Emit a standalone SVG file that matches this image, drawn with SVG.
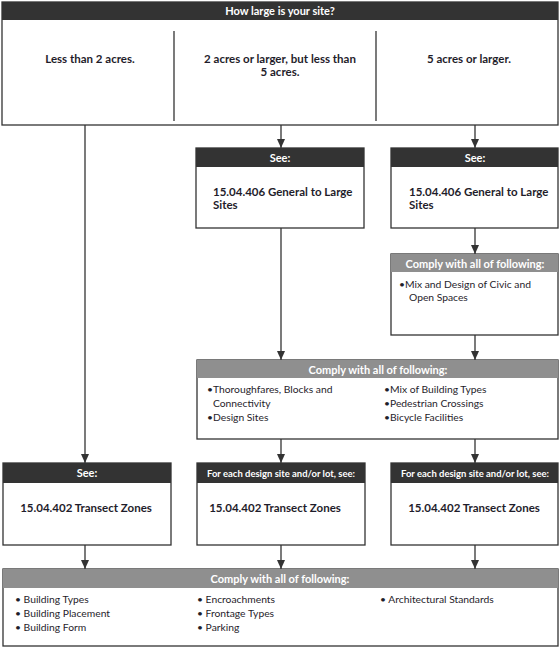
<svg xmlns="http://www.w3.org/2000/svg" width="560" height="649" viewBox="0 0 560 649">
<defs>
<marker id="arr" markerWidth="8" markerHeight="9" refX="4" refY="9" orient="0" markerUnits="userSpaceOnUse" viewBox="0 0 8 9">
<path d="M0,0 L8,0 L4,9 Z" fill="#333"/>
</marker>
<style>
.box{fill:#fff;stroke:#333;stroke-width:1.3}
.dark{fill:#333}
.gray{fill:#8f8f8f}
.ht{font-family:Lato,"Liberation Sans",sans-serif;font-weight:bold;font-size:11px;fill:#fff;text-anchor:middle}
.t{font-family:Lato,"Liberation Sans",sans-serif;font-weight:bold;font-size:11.5px;fill:#1f1d2b}
.c{text-anchor:middle}
.b{font-family:Lato,"Liberation Sans",sans-serif;font-size:10.3px;fill:#1f1d2b}
.ln{stroke:#333;stroke-width:1.3;fill:none}
</style>
</defs>

<g id="connectors">
<line class="ln" x1="85" y1="125" x2="85" y2="463" marker-end="url(#arr)"/>
<line class="ln" x1="281" y1="125" x2="281" y2="148" marker-end="url(#arr)"/>
<line class="ln" x1="475" y1="125" x2="475" y2="148" marker-end="url(#arr)"/>
<line class="ln" x1="281" y1="228" x2="281" y2="360" marker-end="url(#arr)"/>
<line class="ln" x1="475" y1="228" x2="475" y2="254" marker-end="url(#arr)"/>
<line class="ln" x1="475" y1="335" x2="475" y2="360" marker-end="url(#arr)"/>
<line class="ln" x1="281" y1="439" x2="281" y2="463" marker-end="url(#arr)"/>
<line class="ln" x1="475" y1="439" x2="475" y2="463" marker-end="url(#arr)"/>
<line class="ln" x1="85" y1="545" x2="85" y2="569" marker-end="url(#arr)"/>
<line class="ln" x1="281" y1="545" x2="281" y2="569" marker-end="url(#arr)"/>
<line class="ln" x1="475" y1="545" x2="475" y2="569" marker-end="url(#arr)"/>
</g>

<g id="question">
<rect class="box" x="2" y="2" width="556" height="123"/>
<rect class="dark" x="2" y="2" width="556" height="18"/>
<text class="ht" x="280" y="15">How large is your site?</text>
<line class="ln" x1="174" y1="31" x2="174" y2="121"/>
<line class="ln" x1="376" y1="31" x2="376" y2="121"/>
<text class="t c" x="90" y="63">Less than 2 acres.</text>
<text class="t c" x="280" y="63">2 acres or larger, but less than</text>
<text class="t c" x="280" y="76">5 acres.</text>
<text class="t c" x="469" y="63">5 acres or larger.</text>
</g>

<g id="see-mid">
<rect class="box" x="196" y="148" width="168" height="80"/>
<rect class="dark" x="196" y="148" width="168" height="19"/>
<text class="ht" x="280" y="162">See:</text>
<text class="t" x="213" y="196">15.04.406 General to Large</text>
<text class="t" x="213" y="209">Sites</text>
</g>

<g id="see-right">
<rect class="box" x="391" y="148" width="167" height="80"/>
<rect class="dark" x="391" y="148" width="167" height="19"/>
<text class="ht" x="475" y="162">See:</text>
<text class="t" x="409" y="196">15.04.406 General to Large</text>
<text class="t" x="409" y="209">Sites</text>
</g>

<g id="comply-civic">
<rect class="box" x="391" y="254" width="167" height="81"/>
<rect class="gray" x="391" y="254" width="167" height="18"/>
<text class="ht" x="475" y="268">Comply with all of following:</text>
<text class="b" x="399" y="288">•Mix and Design of Civic and</text>
<text class="b" x="409" y="301">Open Spaces</text>
</g>

<g id="comply-blocks">
<rect class="box" x="197" y="360" width="361" height="79"/>
<rect class="gray" x="197" y="360" width="361" height="18"/>
<text class="ht" x="378" y="374">Comply with all of following:</text>
<text class="b" x="207" y="393">•Thoroughfares, Blocks and</text>
<text class="b" x="213" y="407">Connectivity</text>
<text class="b" x="207" y="421">•Design Sites</text>
<text class="b" x="384" y="393">•Mix of Building Types</text>
<text class="b" x="384" y="407">•Pedestrian Crossings</text>
<text class="b" x="384" y="421">•Bicycle Facilities</text>
</g>

<g id="transect-left">
<rect class="box" x="3" y="463" width="168" height="82"/>
<rect class="dark" x="3" y="463" width="168" height="20"/>
<text class="ht" x="87" y="477">See:</text>
<text class="t c" x="86" y="512">15.04.402 Transect Zones</text>
</g>

<g id="transect-mid">
<rect class="box" x="197" y="463" width="168" height="82"/>
<rect class="dark" x="197" y="463" width="168" height="20"/>
<text class="ht" x="281" y="477" style="font-size:9.5px" textLength="148" lengthAdjust="spacingAndGlyphs">For each design site and/or lot, see:</text>
<text class="t c" x="275" y="512">15.04.402 Transect Zones</text>
</g>

<g id="transect-right">
<rect class="box" x="391" y="463" width="167" height="82"/>
<rect class="dark" x="391" y="463" width="167" height="20"/>
<text class="ht" x="475" y="477" style="font-size:9.5px" textLength="148" lengthAdjust="spacingAndGlyphs">For each design site and/or lot, see:</text>
<text class="t c" x="474" y="512">15.04.402 Transect Zones</text>
</g>

<g id="comply-building">
<rect class="box" x="3" y="569" width="555" height="77"/>
<rect class="gray" x="3" y="569" width="555" height="19"/>
<text class="ht" x="280" y="583">Comply with all of following:</text>
<text class="b" x="15" y="603">• Building Types</text>
<text class="b" x="15" y="617">• Building Placement</text>
<text class="b" x="15" y="631">• Building Form</text>
<text class="b" x="197" y="603">• Encroachments</text>
<text class="b" x="197" y="617">• Frontage Types</text>
<text class="b" x="197" y="631">• Parking</text>
<text class="b" x="380" y="603">• Architectural Standards</text>
</g>
</svg>
